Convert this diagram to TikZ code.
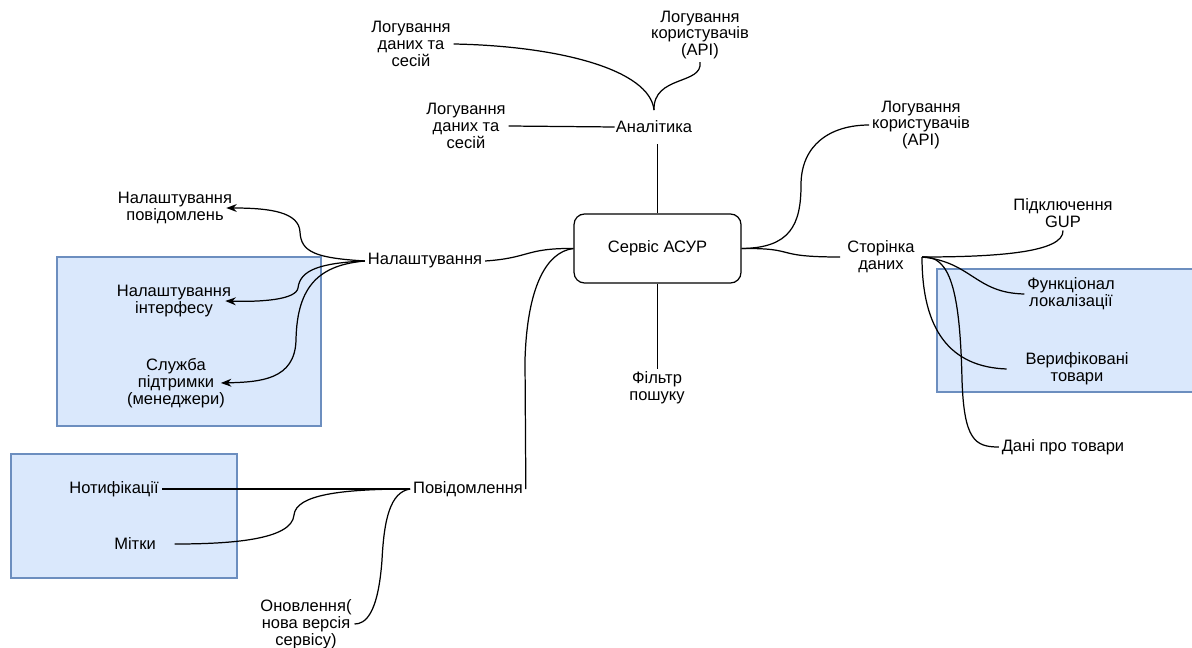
\documentclass[tikz,border=0pt]{standalone}
\usepackage{fontspec}
\setmainfont{Liberation Sans}
\usepackage{tikz}
\usetikzlibrary{arrows.meta,positioning}
\definecolor{groupfill}{HTML}{DAE8FC}
\definecolor{groupline}{HTML}{6C8EBF}

\begin{document}
\begin{tikzpicture}
	[x=0.02cm, y=-0.02cm,
	lbl/.style={font=\fontsize{9.4}{9.6}\selectfont, align=center, inner sep=1.5pt},
	hub/.style={lbl, draw, rounded corners=6pt, line width=0.7pt, minimum width=3.34cm, minimum height=1.38cm},
	wire/.style={line width=0.7pt},
	ptr/.style={wire, -{Stealth[length=6pt,width=4.5pt]}},
	group/.style={fill=groupfill, draw=groupline, line width=0.6pt}]

	\path[use as bounding box, fill=white] (0,0) rectangle (1192,648);

	% grouped areas
	\filldraw[group] (57,257) rectangle (321,426);
	\filldraw[group] (11,454) rectangle (237,578);
	\filldraw[group] (937,269) rectangle (1196,392);

	\node[hub] (svc) at (657.5,248.5) {Сервіс АСУР};

	\node[lbl, inner ysep=6pt, inner xsep=0.5pt] (an) at (654,127) {Аналітика};
	\node[lbl] (logA) at (411,44) {Логування\\даних та\\сесій};
	\node[lbl] (logB) at (700,35) {Логування\\користувачів\\(API)};
	\node[lbl] (logC) at (466,126) {Логування\\даних та\\сесій};
	\node[lbl] (logD) at (921,125) {Логування\\користувачів\\(API)};
	\node[lbl] (filt) at (657,388) {Фільтр\\пошуку};

	\node[lbl, inner xsep=4pt] (page) at (881,257) {Сторінка\\даних};
	\node[lbl] (gup) at (1063,213) {Підключення\\GUP};
	\node[lbl] (loc) at (1071,294) {Функціонал\\локалізації};
	\node[lbl] (ver) at (1077,369) {Верифіковані\\товари};
	\node[lbl] (prod) at (1063,447) {Дані про товари};

	\node[lbl] (sett) at (425,261) {Налаштування};
	\node[lbl] (nmsg) at (175,208) {Налаштування\\повідомлень};
	\node[lbl] (nint) at (174,301) {Налаштування\\інтерфесу};
	\node[lbl] (sup) at (176,383) {Служба\\підтримки\\(менеджери)};

	\node[lbl] (msgs) at (468,489) {Повідомлення};
	\node[lbl] (noti) at (114,489) {Нотифікації};
	\node[lbl] (tags) at (135,544) {Мітки};
	\node[lbl] (upd) at (306,624) {Оновлення(\\нова версія\\сервісу)};

	% top branch
	\draw[wire] (svc.north) -- (svc.north |- an.south);
	\draw[wire] (an.west) -- (logC.east);
	\draw[wire] (an.north) .. controls (650,70) and (560,46) .. (logA.east);
	\draw[wire] (an.north) .. controls (653,75) and (703,85) .. (logB.south);
	\draw[wire] (svc.south) -- (svc.south |- filt.north);

	% right branch
	\draw[wire] (svc.east) .. controls (790,248) and (801,225) .. (801,185) .. controls (801,145) and (830,125) .. (logD.west);
	\draw[wire] (svc.east) .. controls (800,248) and (770,257) .. (page.west);
	\draw[wire] (page.east) .. controls (1000,257) and (1064,252) .. (gup.south);
	\draw[wire] (page.east) .. controls (972,262) and (975,293) .. (loc.west);
	\draw[wire] (page.east) .. controls (922,330) and (950,367) .. ([xshift=-9pt]ver.west);
	\draw[wire] (page.east) .. controls (950,255) and (960,290) .. (962,380) .. controls (964,440) and (975,447) .. (prod.west);

	% left branch
	\draw[wire] (svc.west) .. controls (525,248) and (530,258) .. (sett.east);
	\draw[ptr] (sett.west) .. controls (315,258) and (301,252) .. (300,232) .. controls (299,212) and (270,208) .. ([xshift=-5pt]nmsg.east);
	\draw[ptr] (sett.west) .. controls (320,263) and (300,270) .. (298,288) .. controls (296,300) and (260,302) .. ([xshift=-5pt]nint.east);
	\draw[ptr] (sett.west) .. controls (320,265) and (297,285) .. (296,340) .. controls (295,380) and (260,382) .. ([xshift=-4pt]sup.east);

	% bottom branch
	\draw[wire] (svc.west) .. controls (545,252) and (527,290) .. (525,360) -- (msgs.east);
	\draw[wire] (msgs.west) -- (noti.east);
	\draw[wire] (msgs.west) .. controls (340,489) and (296,495) .. (294,515) .. controls (292,540) and (230,544) .. ([xshift=9pt]tags.east);
	\draw[wire] (msgs.west) .. controls (390,492) and (384,520) .. (382,560) .. controls (378,615) and (365,624) .. (upd.east);
\end{tikzpicture}
\end{document}
